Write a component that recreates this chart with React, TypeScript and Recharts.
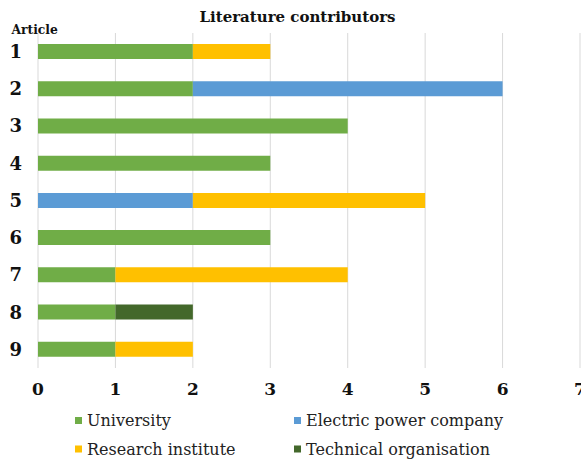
import React from 'react';
import { BarChart, Bar, XAxis, YAxis, CartesianGrid } from 'recharts';

// Article numbers down the vertical axis
const articles = ['1', '2', '3', '4', '5', '6', '7', '8', '9'];

// Contributors per article, by type of organisation
const university = [2, 2, 4, 3, 0, 3, 1, 1, 1];
const electricPowerCompany = [0, 4, 0, 0, 2, 0, 0, 0, 0];
const researchInstitute = [1, 0, 0, 0, 3, 0, 3, 0, 1];
const technicalOrganisation = [0, 0, 0, 0, 0, 0, 0, 1, 0];

// Horizontal axis ticks
const xTicks = [0, 1, 2, 3, 4, 5, 6, 7];

const series = [
  { key: 'university', name: 'University', color: '#70AD47' },
  { key: 'electric', name: 'Electric power company', color: '#5B9BD5' },
  { key: 'research', name: 'Research institute', color: '#FFC000' },
  { key: 'technical', name: 'Technical organisation', color: '#43682B' },
];

const data = articles.map((article, i) => ({
  article,
  university: university[i],
  electric: electricPowerCompany[i],
  research: researchInstitute[i],
  technical: technicalOrganisation[i],
}));

const FONT = "'DejaVu Serif', serif";
const W = 581;
const H = 459;

// Legend laid out as a 2x2 grid below the axis
const legendCols = [74, 293];
const legendRows = [426, 454.5];

export default function App() {
  return (
    <div
      style={{
        position: 'absolute',
        left: 0,
        top: 0,
        width: W,
        height: H,
        overflow: 'hidden',
        background: '#fff',
      }}
    >
      <BarChart
        width={W}
        height={H}
        data={data}
        layout="vertical"
        margin={{ top: 33, right: 1, bottom: 61, left: 0 }}
        barSize={15}
      >
        <CartesianGrid horizontal={false} vertical stroke="#d9d9d9" strokeWidth={1} />
        <XAxis
          type="number"
          domain={[0, 7]}
          ticks={xTicks}
          interval={0}
          height={30}
          axisLine={false}
          tickLine={false}
          tickSize={0}
          tickMargin={15}
          tick={{ fontFamily: FONT, fontWeight: 'bold', fontSize: 17, fill: '#111' }}
        />
        <YAxis
          type="category"
          dataKey="article"
          width={38}
          axisLine={false}
          tickLine={false}
          tickSize={0}
          tickMargin={16}
          tick={{ fontFamily: FONT, fontWeight: 'bold', fontSize: 18, fill: '#111' }}
        />
        {series.map((s) => (
          <Bar
            key={s.key}
            dataKey={s.key}
            name={s.name}
            stackId="contributors"
            fill={s.color}
            isAnimationActive={false}
          />
        ))}
      </BarChart>
      <svg
        width={W}
        height={H}
        style={{ position: 'absolute', left: 0, top: 0, pointerEvents: 'none' }}
      >
        <text
          x={297.5}
          y={22}
          textAnchor="middle"
          fontFamily={FONT}
          fontWeight="bold"
          fontSize={15}
          fill="#111"
        >
          Literature contributors
        </text>
        <text x={11.5} y={34} fontFamily={FONT} fontWeight="bold" fontSize={12.3} fill="#111">
          Article
        </text>
        {series.map((s, i) => {
          const x = legendCols[i % 2];
          const y = legendRows[Math.floor(i / 2)];
          return (
            <g key={s.key}>
              <rect x={x + 1} y={y - 9} width={7} height={7} fill={s.color} />
              <text x={x + 13} y={y} fontFamily={FONT} fontSize={16} fill="#222">
                {s.name}
              </text>
            </g>
          );
        })}
      </svg>
    </div>
  );
}
